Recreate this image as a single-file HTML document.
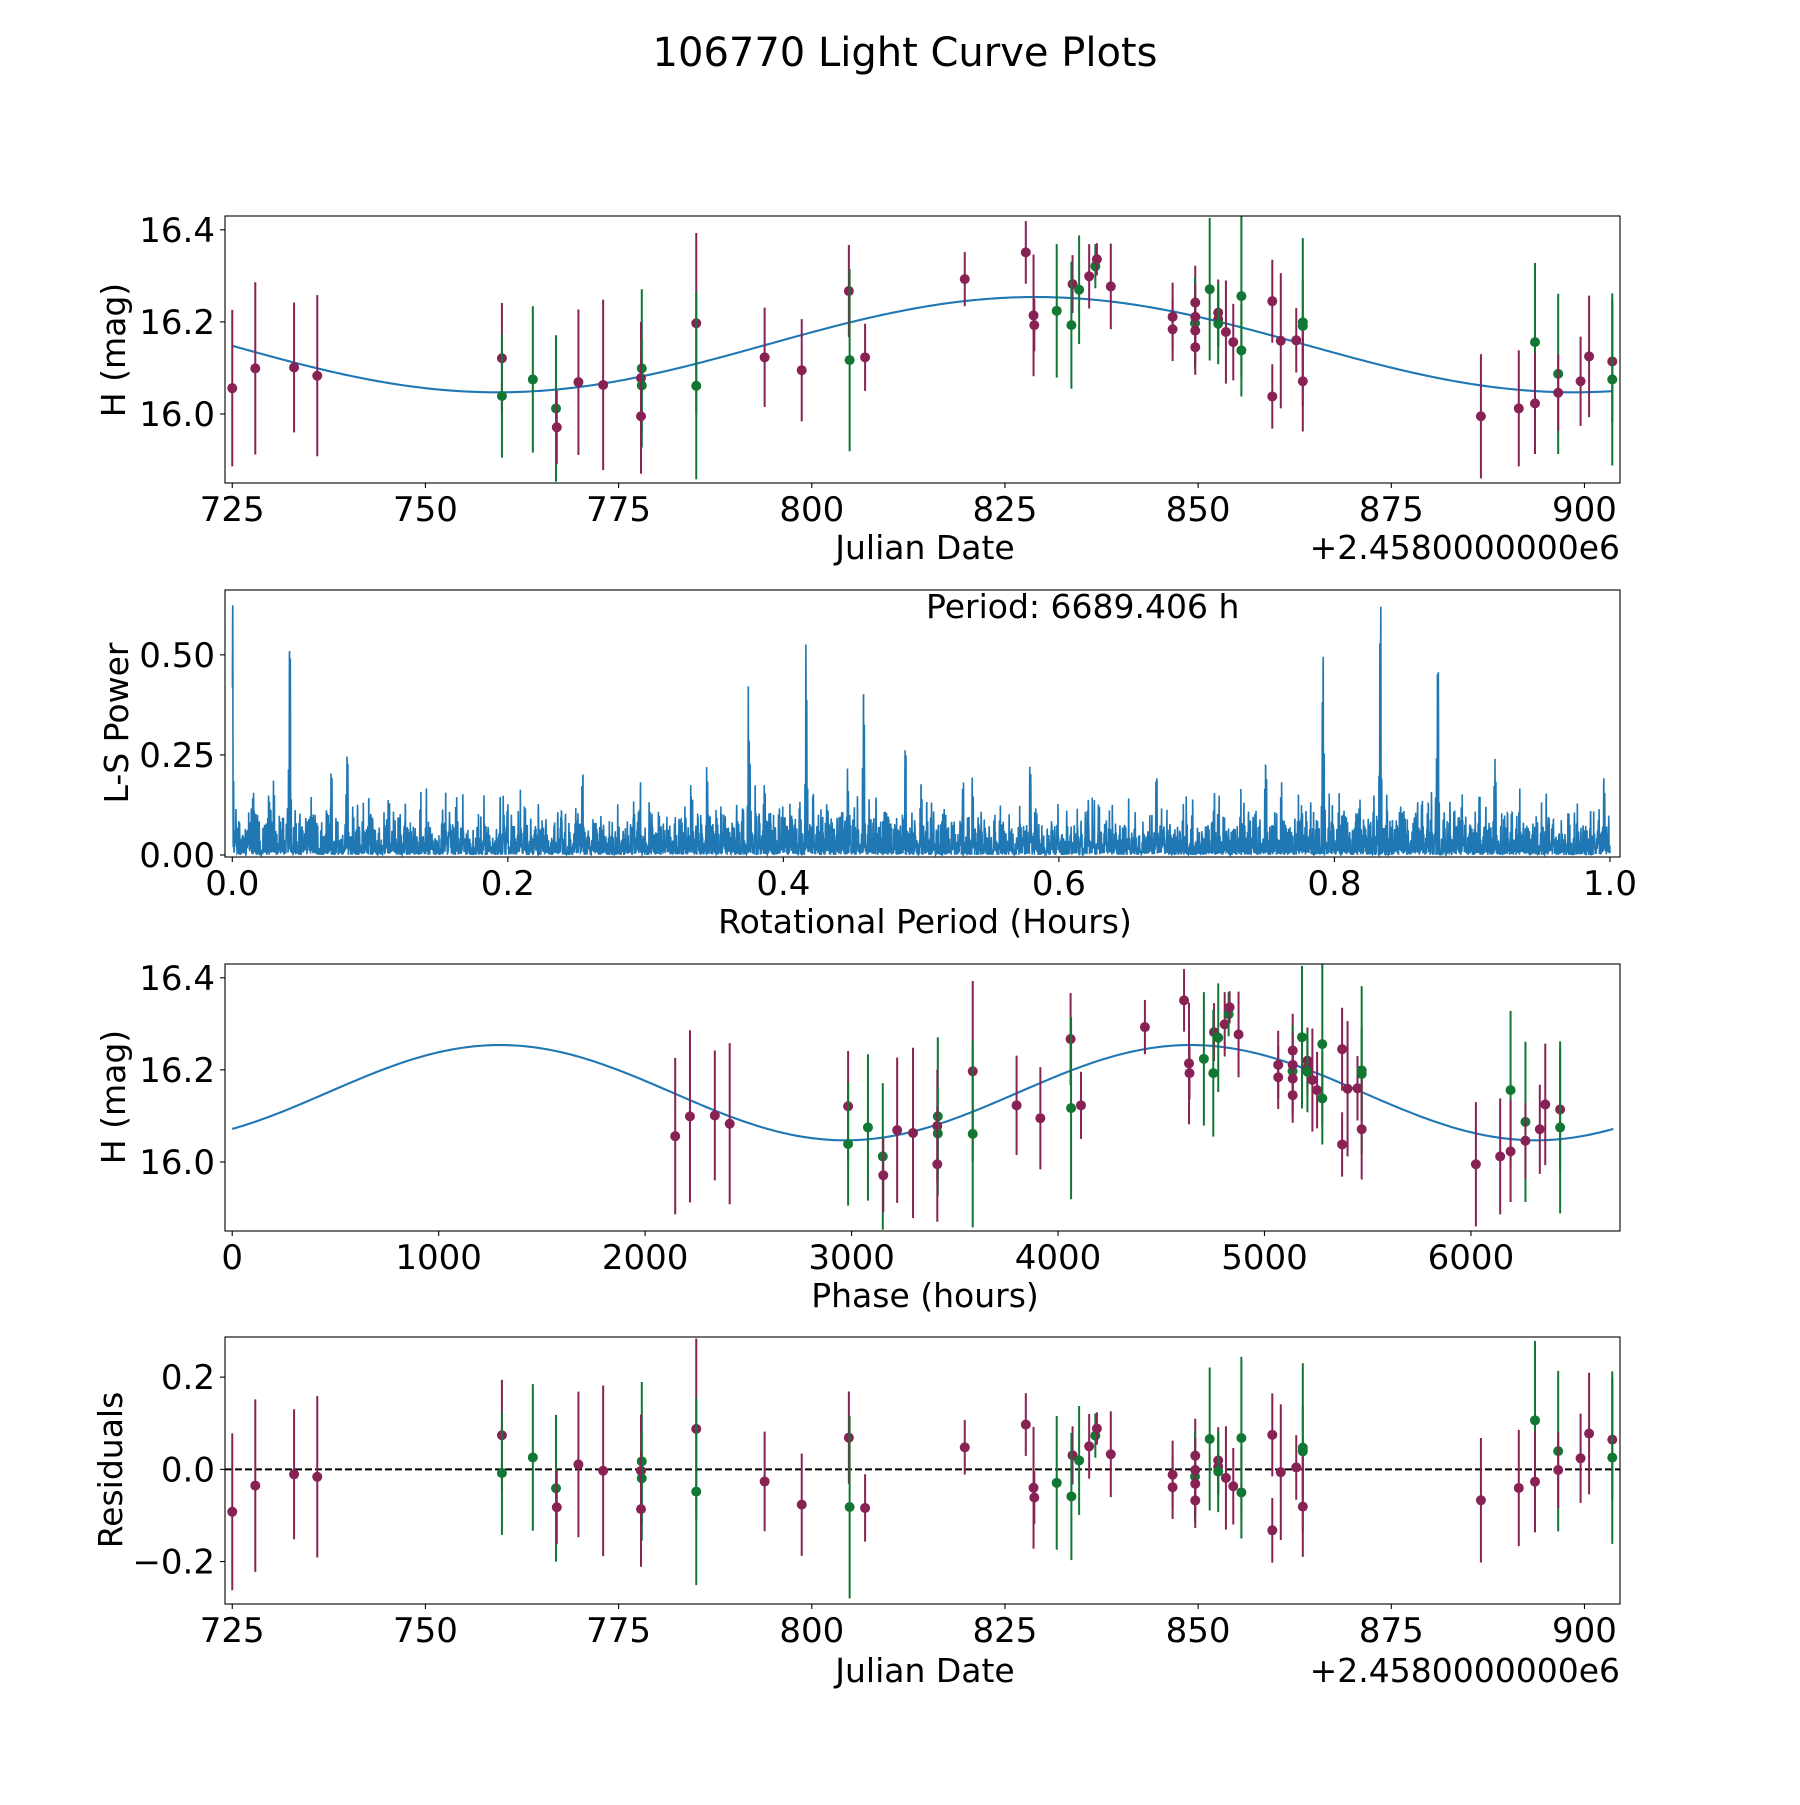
<!DOCTYPE html>
<html><head><meta charset="utf-8"><style>
html,body{margin:0;padding:0;background:#fff}
svg text{font-family:"DejaVu Sans","Liberation Sans",sans-serif;fill:#000}
</style></head>
<body>
<svg id="fig" width="1800" height="1800" viewBox="0 0 1800 1800" xmlns="http://www.w3.org/2000/svg">
<rect width="1800" height="1800" fill="#fff"/>
<text x="905" y="66" font-size="40" text-anchor="middle">106770 Light Curve Plots</text>
</svg>
<script>
// ---- data ----
const obsJD = [725.0,727.98,733.0,736.0,759.9,759.9,763.9,766.9,767.0,769.8,773.0,778.0,777.9,778.0,777.9,785.05,785.05,793.9,798.7,804.8,804.9,806.9,819.8,827.7,828.7,828.8,831.7,833.75,833.6,834.6,835.9,836.7,836.9,838.7,846.7,846.7,849.63,849.6,849.63,849.63,849.63,851.5,852.6,852.6,852.6,853.6,854.55,855.6,855.6,859.6,859.6,860.7,862.7,863.55,863.55,863.55,886.6,891.5,893.6,893.6,896.6,896.6,899.5,900.6,903.6,903.6];
const obsMag = [16.056,16.099,16.101,16.083,16.121,16.039,16.075,16.012,15.971,16.069,16.063,16.099,16.078,16.062,15.995,16.197,16.061,16.123,16.095,16.267,16.117,16.123,16.293,16.351,16.214,16.193,16.224,16.282,16.193,16.270,16.299,16.321,16.336,16.277,16.211,16.184,16.242,16.197,16.211,16.181,16.145,16.271,16.220,16.206,16.196,16.178,16.156,16.256,16.138,16.245,16.038,16.159,16.160,16.199,16.191,16.071,15.995,16.012,16.156,16.023,16.087,16.046,16.071,16.125,16.114,16.075];
const obsErr = [0.170,0.187,0.141,0.175,0.120,0.134,0.159,0.159,0.080,0.158,0.185,0.172,0.122,0.10,0.125,0.196,0.203,0.108,0.111,0.100,0.198,0.073,0.059,0.068,0.132,0.057,0.145,0.063,0.138,0.118,0.070,0.048,0.035,0.093,0.074,0.069,0.08,0.099,0.07,0.07,0.06,0.155,0.072,0.06,0.088,0.112,0.083,0.176,0.10,0.090,0.07,0.147,0.070,0.183,0.10,0.109,0.135,0.126,0.172,0.110,0.174,0.082,0.097,0.132,0.132,0.187];
const obsBand = ['m','m','m','m','m','g','g','g','m','m','m','g','m','g','m','m','g','m','m','m','g','m','m','m','m','m','g','m','g','g','m','g','m','m','m','m','m','g','m','m','m','g','m','m','g','m','m','g','g','m','m','m','m','g','g','m','m','m','g','m','g','m','m','m','m','g'];
// fit model parameters
const fitMean = 16.1505;
const fitAmp = 0.1035;
const fitPeakJD = 829.0;
const fitPeriodHours = 6689.406;
const phaseZeroJD = 635.6;
// axis ticks
const jdTicks = [725,750,775,800,825,850,875,900];
const magTicks = [16.0,16.2,16.4];
const powTicks = [0.0,0.25,0.5];
const powTickLabels = ['0.00','0.25','0.50'];
const freqTicks = [0.0,0.2,0.4,0.6,0.8,1.0];
const phaseTicks = [0,1000,2000,3000,4000,5000,6000];
const resTicks = [-0.2,0.0,0.2];
const resTickLabels = ['\u22120.2','0.0','0.2'];

const NS='http://www.w3.org/2000/svg';
const svg=document.getElementById('fig');
const COL={m:'#882255',g:'#117733'};
const BLUE='#1f77b4';
const TFS=34, LFS=33;
function el(tag,attrs,parent){const e=document.createElementNS(NS,tag);for(const k in attrs)e.setAttribute(k,attrs[k]);(parent||svg).appendChild(e);return e;}
function modelJD(t){return fitMean+fitAmp*Math.cos(2*Math.PI*(t-fitPeakJD)/(fitPeriodHours/48));}

const L=225,R=1620;
function axes(top,bottom,x0,x1,y0,y1,name){
  const g=el('g',{});
  
  
  const sx=v=>L+(v-x0)/(x1-x0)*(R-L);
  const sy=v=>bottom-(v-y0)/(y1-y0)*(bottom-top);
  const clipId='clip-'+name;
  const cp=el('clipPath',{id:clipId},g);el('rect',{x:L,y:top,width:R-L,height:bottom-top},cp);
  const plot=el('g',{'clip-path':'url(#'+clipId+')'},g);
  return {g,plot,sx,sy,top,bottom};
}
function frame(a){
  const f=el('rect',{x:L,y:a.top,width:R-L,height:a.bottom-a.top,fill:'none',stroke:'#000','stroke-width':1.1},a.g);
  
  
}
function xticks(a,vals,labels,name){
  vals.forEach((v,i)=>{const x=a.sx(v);
    el('line',{x1:x,x2:x,y1:a.bottom,y2:a.bottom+5,stroke:'#000','stroke-width':1.1},a.g);
    const t=el('text',{x:x,y:a.bottom+38,'font-size':TFS,'text-anchor':'middle'},a.g);
    t.textContent=labels?labels[i]:String(v);
    
    
  });
}
function yticks(a,vals,labels,name){
  vals.forEach((v,i)=>{const y=a.sy(v);
    el('line',{x1:L-5,x2:L,y1:y,y2:y,stroke:'#000','stroke-width':1.1},a.g);
    const t=el('text',{x:L-10,y:y+12,'font-size':TFS,'text-anchor':'end'},a.g);
    t.textContent=labels?labels[i]:v.toFixed(1);
    
    
  });
}
function label(a,txt,x,y,rot,name){
  const t=el('text',{x:x,y:y,'font-size':LFS,'text-anchor':'middle'},a.g);
  if(rot)t.setAttribute('transform','rotate(-90 '+x+' '+y+')');
  t.textContent=txt;
  
  
  return t;
}
function errpoints(a,xs,ys,es,name){
  xs.forEach((xv,i)=>{
    const x=a.sx(xv),y=a.sy(ys[i]);
    const c=COL[obsBand[i]];
    const ln=el('line',{x1:x,x2:x,y1:a.sy(ys[i]+es[i]),y2:a.sy(ys[i]-es[i]),stroke:c,'stroke-width':2},a.plot);
    
    
    const d=el('circle',{cx:x,cy:y,r:5,fill:c},a.plot);
    
    
  });
}
function curve(a,fx,fy,n,x0,x1,name,w){
  let p='';for(let i=0;i<=n;i++){const v=x0+(x1-x0)*i/n;p+=(i?'L':'M')+a.sx(v).toFixed(2)+' '+a.sy(fy(v)).toFixed(2);}
  const e=el('path',{d:p,fill:'none',stroke:BLUE,'stroke-width':w||2.1},a.plot);
  
  
}

// ---- Panel 1 ----
const a1=axes(216,483,724.06,904.6,15.85,16.43,'lightcurve-axes');
curve(a1,t=>t,modelJD,400,obsJD[0],obsJD[obsJD.length-1],'model-curve');
errpoints(a1,obsJD,obsMag,obsErr,'lightcurve');
frame(a1);
xticks(a1,jdTicks,null,'jd');
yticks(a1,magTicks,null,'mag');
label(a1,'Julian Date',925,559,false,'x-axis-title-jd');
const off1=el('text',{x:1620,y:559,'font-size':LFS,'text-anchor':'end'},a1.g);off1.textContent='+2.4580000000e6';


label(a1,'H (mag)',125,350,true,'y-axis-title-mag');

// ---- Panel 2: periodogram computed from observations ----
const a2=axes(590,857,-0.0053,1.0073,-0.005,0.662,'periodogram-axes');
(function(){
  const tH=obsJD.map(t=>t*24);
  const n=tH.length;
  const ybar=obsMag.reduce((s,v)=>s+v,0)/n;
  const yc=obsMag.map(v=>v-ybar);
  const YY=yc.reduce((s,v)=>s+v*v,0)/n;
  const nf=9000;let p='';
  for(let k=1;k<=nf;k++){
    const f=k/nf;const om=2*Math.PI*f;
    let C=0,S=0,YC=0,YS=0,CC=0,SS=0,CS=0;
    for(let i=0;i<n;i++){const c=Math.cos(om*tH[i]),s=Math.sin(om*tH[i]);
      C+=c;S+=s;YC+=yc[i]*c;YS+=yc[i]*s;CC+=c*c;SS+=s*s;CS+=c*s;}
    C/=n;S/=n;YC/=n;YS/=n;CC/=n;SS/=n;CS/=n;
    const cc=CC-C*C,ss=SS-S*S,cs=CS-C*S;const D=cc*ss-cs*cs;
    const pw=D>1e-12?(ss*YC*YC+cc*YS*YS-2*cs*YC*YS)/(YY*D):0;
    p+=(k>1?'L':'M')+a2.sx(f).toFixed(2)+' '+a2.sy(Math.max(0,Math.min(1,pw))).toFixed(2);
  }
  const e=el('path',{d:p,fill:'none',stroke:BLUE,'stroke-width':1.6},a2.plot);
  
  
})();
frame(a2);
xticks(a2,freqTicks,freqTicks.map(v=>v.toFixed(1)),'freq');
yticks(a2,powTicks,powTickLabels,'power');
label(a2,'Rotational Period (Hours)',925,933,false,'x-axis-title-period');
label(a2,'L-S Power',128,723,true,'y-axis-title-power');
const pt=el('text',{x:926,y:618,'font-size':LFS},a2.g);pt.textContent='Period: 6689.406 h';



// ---- Panel 3 ----
const a3=axes(964,1231,-35,6722,15.85,16.43,'phase-axes');
const phaseOf=t=>(((t-phaseZeroJD)*24)%fitPeriodHours+fitPeriodHours)%fitPeriodHours;
curve(a3,v=>v,v=>modelJD(phaseZeroJD+v/24),400,0,fitPeriodHours,'phase-model-curve');
errpoints(a3,obsJD.map(phaseOf),obsMag,obsErr,'phase');
frame(a3);
xticks(a3,phaseTicks,null,'phase');
yticks(a3,magTicks,null,'phase-mag');
label(a3,'Phase (hours)',925,1307,false,'x-axis-title-phase');
label(a3,'H (mag)',125,1097,true,'y-axis-title-phase-mag');

// ---- Panel 4 ----
const a4=axes(1337,1604,724.06,904.6,-0.292,0.287,'residuals-axes');
const z=el('line',{x1:L,x2:R,y1:a4.sy(0),y2:a4.sy(0),stroke:'#000','stroke-width':2,'stroke-dasharray':'7,3'},a4.plot);


errpoints(a4,obsJD,obsMag.map((v,i)=>v-modelJD(obsJD[i])),obsErr,'residual');
frame(a4);
xticks(a4,jdTicks,null,'res-jd');
yticks(a4,resTicks,resTickLabels,'residual');
label(a4,'Julian Date',925,1682,false,'x-axis-title-res');
const off4=el('text',{x:1620,y:1682,'font-size':LFS,'text-anchor':'end'},a4.g);off4.textContent='+2.4580000000e6';


label(a4,'Residuals',122,1470,true,'y-axis-title-res');
</script>
</body></html>
